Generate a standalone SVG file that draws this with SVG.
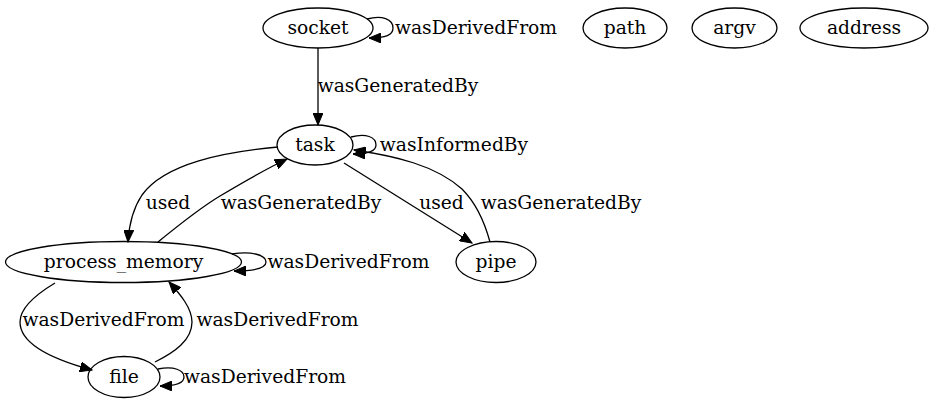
<svg xmlns="http://www.w3.org/2000/svg" width="933" height="407" viewBox="0 0 933 407">
<defs>
<marker id="ah" markerUnits="userSpaceOnUse" markerWidth="13" markerHeight="10" refX="12" refY="5" orient="auto">
<path d="M0,0 L12,5 L0,10 z" fill="#000" stroke="#000" stroke-width="1"/>
</marker>
<style>
text{font-family:"DejaVu Serif","Liberation Serif",serif;font-size:18.7px;fill:#000;text-anchor:middle}
ellipse{fill:none;stroke:#000;stroke-width:1.3}
.e path{fill:none;stroke:#000;stroke-width:1.3;marker-end:url(#ah)}
</style>
</defs>
<rect width="933" height="407" fill="#fff"/>
<g id="socket"><ellipse cx="318" cy="28" rx="55" ry="20"/><text x="318" y="34">socket</text></g>
<g id="path"><ellipse cx="625" cy="28" rx="42" ry="20"/><text x="625" y="34">path</text></g>
<g id="argv"><ellipse cx="734.5" cy="28" rx="42.5" ry="20"/><text x="734.5" y="34">argv</text></g>
<g id="address"><ellipse cx="864" cy="28" rx="64" ry="20"/><text x="864" y="34">address</text></g>
<g id="task"><ellipse cx="315" cy="145" rx="38" ry="20"/><text x="315" y="151">task</text></g>
<g id="process_memory"><ellipse cx="123.5" cy="262" rx="118" ry="20.5"/><text x="123.5" y="268">process_memory</text></g>
<g id="pipe"><ellipse cx="496" cy="262" rx="40" ry="20.5"/><text x="496" y="268">pipe</text></g>
<g id="file"><ellipse cx="124" cy="377" rx="36" ry="20.5"/><text x="124" y="383">file</text></g>
<g id="edges" class="e">
<path d="M318,48 L318,125"/>
<text x="398" y="92">wasGeneratedBy</text>
<path d="M367,19 C382,15 393,19 393,28 C393,35 386,38 369,38"/>
<text x="476" y="34">wasDerivedFrom</text>
<path d="M351,137 C366,133 376,137 376,145 C376,151 369,154 353,154"/>
<text x="454" y="151">wasInformedBy</text>
<path d="M278,147 C225,152 165,163 142,195 C132,210 129,225 128,242"/>
<text x="168" y="209">used</text>
<path d="M158,242 C180,224 200,208 220,196 C240,184 262,171 287,159"/>
<text x="301" y="209">wasGeneratedBy</text>
<path d="M344,163 L472,243"/>
<text x="441.5" y="209">used</text>
<path d="M490,242 C484,220 476,203 462,189 C435,165 395,156 354,150"/>
<text x="561" y="209">wasGeneratedBy</text>
<path d="M232,254 C252,251 266,255 266,262 C266,268 256,271 234,271"/>
<text x="348.5" y="268">wasDerivedFrom</text>
<path d="M55,283 C35,295 20,308 20,322 C20,345 55,360 92,370"/>
<text x="103.5" y="326">wasDerivedFrom</text>
<path d="M155,362 C175,352 192,340 192,322 C192,308 180,294 169,282"/>
<text x="277.5" y="326">wasDerivedFrom</text>
<path d="M158,369 C174,366 184,370 184,377 C184,383 176,386 160,386"/>
<text x="265" y="383">wasDerivedFrom</text>
</g>
</svg>
